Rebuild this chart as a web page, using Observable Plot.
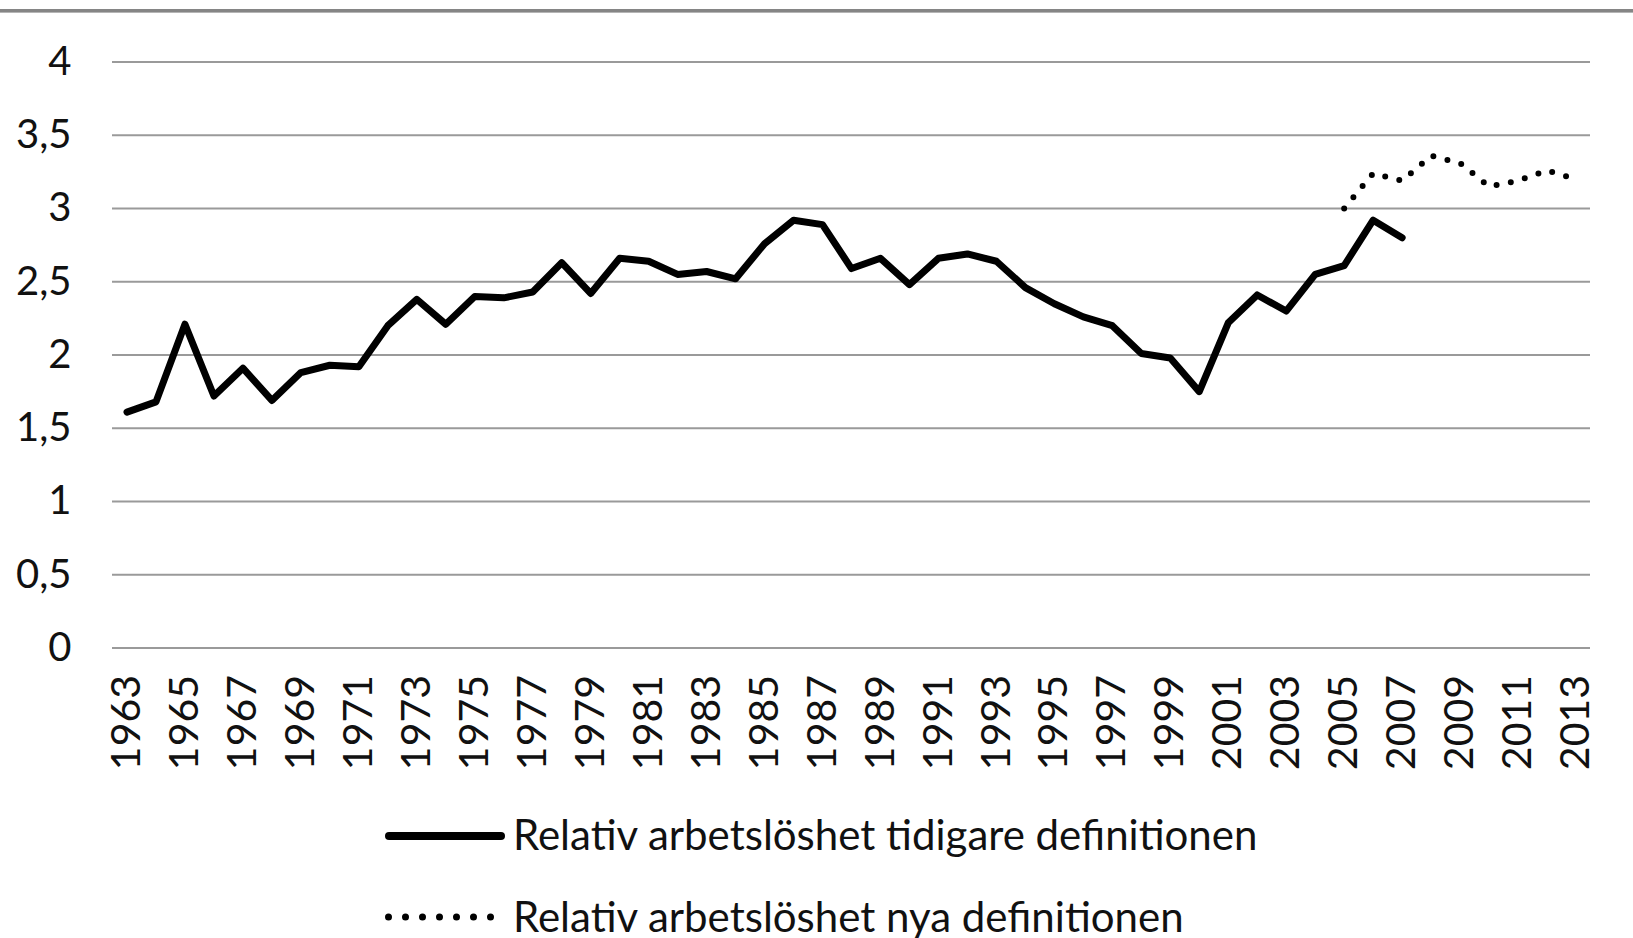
<!DOCTYPE html>
<html>
<head>
<meta charset="utf-8">
<script src="https://cdn.jsdelivr.net/npm/d3@7"></script>
<script src="https://cdn.jsdelivr.net/npm/@observablehq/plot@0.6"></script>
<style>
  html, body { margin: 0; padding: 0; background: #fff; overflow: hidden; }
  body { width: 1633px; height: 938px; position: relative; font-family: Lato, "Open Sans", sans-serif; color: #111; }
  #topline { position: absolute; left: 0; top: 9px; width: 1633px; height: 3px; background: #858585; border-bottom: 1px solid #b5b5b5; }
  #chart { position: absolute; left: 0; top: 0; }
  .legend-row { position: absolute; left: 0; height: 0; }
  .legend-row svg { position: absolute; left: 385px; }
  .legend-row span { position: absolute; left: 513px; font-size: 42px; line-height: 42px; white-space: nowrap; color: #111; }
</style>
</head>
<body>
<div id="chart"></div>
<div id="topline"></div>
<div id="legend"></div>
<script>
const years = [1963,1964,1965,1966,1967,1968,1969,1970,1971,1972,1973,1974,1975,1976,1977,1978,1979,1980,1981,1982,1983,1984,1985,1986,1987,1988,1989,1990,1991,1992,1993,1994,1995,1996,1997,1998,1999,2000,2001,2002,2003,2004,2005,2006,2007,2008,2009,2010,2011,2012,2013];
const tickYears = [1963,1965,1967,1969,1971,1973,1975,1977,1979,1981,1983,1985,1987,1989,1991,1993,1995,1997,1999,2001,2003,2005,2007,2009,2011,2013];
const yTicks = [0, 0.5, 1, 1.5, 2, 2.5, 3, 3.5, 4];

const oldYears = [1963,1964,1965,1966,1967,1968,1969,1970,1971,1972,1973,1974,1975,1976,1977,1978,1979,1980,1981,1982,1983,1984,1985,1986,1987,1988,1989,1990,1991,1992,1993,1994,1995,1996,1997,1998,1999,2000,2001,2002,2003,2004,2005,2006,2007];
const oldValues = [1.61,1.68,2.21,1.72,1.91,1.69,1.88,1.93,1.92,2.20,2.38,2.21,2.40,2.39,2.43,2.63,2.42,2.66,2.64,2.55,2.57,2.52,2.76,2.92,2.89,2.59,2.66,2.48,2.66,2.69,2.64,2.46,2.35,2.26,2.20,2.01,1.98,1.75,2.22,2.41,2.30,2.55,2.61,2.92,2.80];

const newYears = [2005,2006,2007,2008,2009,2010,2011,2012,2013];
const newValues = [3.00,3.24,3.19,3.36,3.31,3.15,3.19,3.26,3.20];

const seriesNames = ["Relativ arbetslöshet tidigare definitionen", "Relativ arbetslöshet nya definitionen"];

const oldData = oldYears.map((y, i) => ({year: y, value: oldValues[i]}));
const newData = newYears.map((y, i) => ({year: y, value: newValues[i]}));

const fmt = d => String(d).replace(".", ",");

const plot = Plot.plot({
  width: 1633,
  height: 770,
  marginTop: 61.5,
  marginBottom: 122.5,
  marginLeft: 112,
  marginRight: 43,
  style: { background: "transparent", fontFamily: "Lato, 'Open Sans', sans-serif", color: "#111", overflow: "visible" },
  x: { type: "point", domain: years, padding: 0.5 },
  y: { domain: [0, 4] },
  marks: [
    Plot.ruleY(yTicks, { stroke: "#9a9a9a", strokeWidth: 2 }),
    Plot.axisY({ ticks: yTicks, tickFormat: fmt, tickSize: 0, tickPadding: 41, fontSize: 40, label: null, fill: "#111" }),
    Plot.axisX({ ticks: tickYears, tickFormat: d => String(d), tickSize: 0, tickPadding: 27, tickRotate: -90, fontSize: 41, label: null, fill: "#111" }),
    Plot.line(oldData, { x: "year", y: "value", stroke: "#000", strokeWidth: 7, strokeLinejoin: "round", strokeLinecap: "round" }),
    Plot.line(newData, { x: "year", y: "value", stroke: "#000", strokeWidth: 6, strokeDasharray: "0 14.5", strokeLinecap: "round" })
  ]
});
document.getElementById("chart").appendChild(plot);

// Legend (HTML below the plot area)
const legend = document.getElementById("legend");
const ns = "http://www.w3.org/2000/svg";
function legendRow(name, top, dotted, textOffset) {
  const row = document.createElement("div");
  row.className = "legend-row";
  row.style.top = top + "px";
  const svg = document.createElementNS(ns, "svg");
  svg.setAttribute("width", 120);
  svg.setAttribute("height", 20);
  svg.style.top = "-10px";
  const line = document.createElementNS(ns, "line");
  line.setAttribute("y1", 10); line.setAttribute("y2", 10);
  line.setAttribute("stroke", "#000");
  line.setAttribute("stroke-linecap", "round");
  if (dotted) {
    line.setAttribute("x1", 3.5); line.setAttribute("x2", 106);
    line.setAttribute("stroke-width", 7);
    line.setAttribute("stroke-dasharray", "0 17");
  } else {
    line.setAttribute("x1", 4); line.setAttribute("x2", 116);
    line.setAttribute("stroke-width", 8);
  }
  svg.appendChild(line);
  row.appendChild(svg);
  const span = document.createElement("span");
  span.textContent = name;
  span.style.top = textOffset + "px";
  row.appendChild(span);
  legend.appendChild(row);
}
legendRow(seriesNames[0], 836, false, -23);
legendRow(seriesNames[1], 917, true, -22);
</script>
</body>
</html>
